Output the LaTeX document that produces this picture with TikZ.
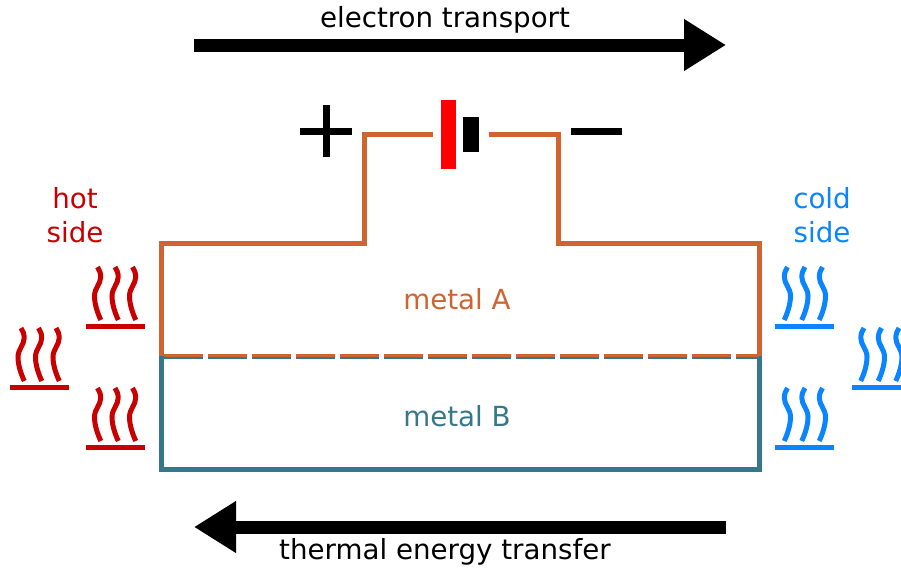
\documentclass[tikz,border=0pt]{standalone}
\usepackage{fontspec}
\setmainfont{DejaVu Sans}
\usepackage{xcolor}
\usetikzlibrary{
    positioning,
    arrows.meta,
}
\definecolor{metalA}{HTML}{D0632F}
\definecolor{metalB}{HTML}{35788A}
\definecolor{hotred}{HTML}{C80000}
\definecolor{coldblue}{HTML}{0A84FF}
\tikzset{
    wire/.style={line width=5pt,line join=miter},
    bigarrow/.style={line width=13pt,-{Triangle[length=42pt,width=49pt]}},
    sign/.style={line width=7pt},
    label/.style={font=\fontsize{27.7}{34.5}\selectfont,align=center,inner sep=0pt},
    plate/.style={fill,inner sep=0pt,outer sep=0pt},
    pics/heat/.style={code={
        \draw[line width=5pt] (-29.5,0) -- (29.5,0);
        \foreach \wx in {-18,-0.5,17}{
            \draw[line width=5pt,shift={(\wx,-59)}]
                (0,0) .. controls (2,3) and (3.2,6) .. (3.2,10)
                .. controls (3.2,17) and (-3,21) .. (-3,29)
                .. controls (-3,37) and (0,46) .. (3.3,53);
        }
    }},
}
\begin{document}
\begin{tikzpicture}[x=1pt,y=-1pt]
    \useasboundingbox (0,0) rectangle (901,570);
    \clip (0,0) rectangle (901,570);
    \pgfmathsetmacro\LeftX{161}
    \pgfmathsetmacro\RightX{759}
    \pgfmathsetmacro\TopY{243}
    \pgfmathsetmacro\MidY{356}
    \pgfmathsetmacro\LowY{469}
    %
        % Frecce
    \coordinate (etail) at (194,45);
    \coordinate (ehead) at (726,45);
    \coordinate (ttail) at (726,527);
    \coordinate (thead) at (194,527);
    \draw[bigarrow] (etail) -- (ehead);
    \draw[bigarrow] (ttail) -- (thead);
    \node[label] (etext) at (445,20) {electron transport};
    \node[label] (ttext) at (445,552) {thermal energy transfer};
    %
        % Batteria
    \node[plate,red,minimum width=15pt,minimum height=69pt] (plus) at (448.5,134.5) {};
    \node[plate,black,minimum width=16pt,minimum height=35pt] (minus) at (471,134.5) {};
    \draw[sign] (300,131) -- (352,131);
    \draw[sign] (326,105) -- (326,157);
    \draw[sign] (571,131) -- (622,131);
    %
        % Metallo B
    \draw[wire,metalB] (\LeftX,\MidY) -- (\LeftX,\LowY) -- (\RightX,\LowY) -- (\RightX,\MidY);
    \draw[metalB,line width=2.6pt,dash pattern=on 39pt off 5pt,dash phase=-3pt]
        (\LeftX,\MidY+1.7) -- (\RightX,\MidY+1.7);
    %
        % Metallo A
    \draw[wire,metalA,shorten <=8pt] (plus.west) -- (364,134.5) -- (364,\TopY)
        -- (\LeftX,\TopY) -- (\LeftX,\MidY);
    \draw[wire,metalA,shorten <=10pt] (minus.east) -- (558,134.5) -- (558,\TopY)
        -- (\RightX,\TopY) -- (\RightX,\MidY);
    \draw[metalA,line width=2.6pt,dash pattern=on 39pt off 5pt,dash phase=-3pt]
        (\LeftX,\MidY-0.8) -- (\RightX,\MidY-0.8);
    %
    \node[label,metalA] (metala) at (457,299) {metal A};
    \node[label,metalB] (metalb) at (457,416) {metal B};
    %
        % Lato caldo
    \node[label,hotred] (hot) at (75,215) {hot\\side};
    \pic[hotred] (hotup) at (115.5,326) {heat};
    \pic[hotred] (hotlow) at (115.5,447) {heat};
    \pic[hotred] (hotout) at (39,387) {heat};
    %
        % Lato freddo
    \node[label,coldblue] (cold) at (822,215) {cold\\side};
    \pic[coldblue,xscale=-1] (coldup) at (804.5,326) {heat};
    \pic[coldblue,xscale=-1] (coldlow) at (804.5,447) {heat};
    \pic[coldblue,xscale=-1] (coldout) at (881,387) {heat};
\end{tikzpicture}
\end{document}
